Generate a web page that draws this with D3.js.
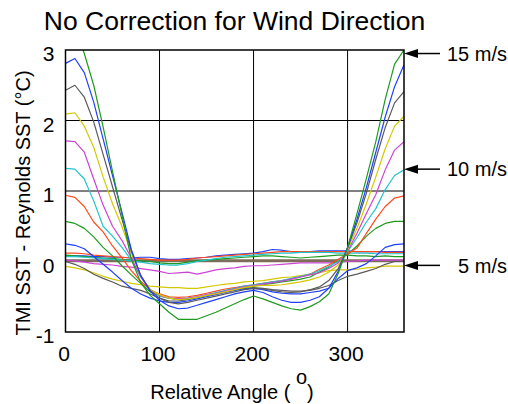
<!DOCTYPE html>
<html><head><meta charset="utf-8">
<script src="https://cdn.jsdelivr.net/npm/d3@7"></script>
<style>
body{margin:0;background:#fff;}
svg text{font-family:"Liberation Sans",Arial,Helvetica,sans-serif;fill:#000;}
</style></head>
<body><svg id="c" width="508" height="404"></svg>
<script>
// ---- data ----
const angles = [0,10,20,30,40,50,60,70,80,90,100,110,120,130,140,150,160,170,180,190,200,210,220,230,240,250,260,270,280,290,300,310,320,330,340,350,360];
const ws15 = [3.2,3.3,2.95,2.5,1.91,1.28,0.66,0.03,-0.3,-0.48,-0.6,-0.72,-0.82,-0.82,-0.82,-0.77,-0.72,-0.66,-0.6,-0.54,-0.49,-0.53,-0.58,-0.63,-0.67,-0.69,-0.64,-0.57,-0.46,-0.17,0.2,0.68,1.18,1.7,2.3,2.8,3.0];
const ws14 = [2.81,2.88,2.68,2.26,1.74,1.22,0.7,0.17,-0.2,-0.42,-0.55,-0.63,-0.67,-0.66,-0.62,-0.58,-0.54,-0.5,-0.46,-0.43,-0.41,-0.44,-0.5,-0.55,-0.58,-0.58,-0.55,-0.5,-0.38,-0.14,0.2,0.6,1.05,1.55,2.05,2.48,2.79];
const ws13 = [2.43,2.5,2.33,1.98,1.52,1.06,0.6,0.15,-0.2,-0.41,-0.52,-0.58,-0.6,-0.58,-0.55,-0.52,-0.49,-0.46,-0.43,-0.4,-0.38,-0.39,-0.41,-0.43,-0.44,-0.43,-0.4,-0.36,-0.27,-0.1,0.19,0.55,0.97,1.45,1.9,2.25,2.41];
const ws12 = [2.09,2.11,1.92,1.62,1.2,0.82,0.5,0.12,-0.2,-0.4,-0.47,-0.52,-0.54,-0.53,-0.51,-0.48,-0.46,-0.43,-0.4,-0.37,-0.35,-0.34,-0.34,-0.33,-0.31,-0.29,-0.26,-0.22,-0.15,-0.05,0.17,0.47,0.82,1.2,1.6,1.92,2.06];
const ws11 = [1.71,1.70,1.55,1.17,0.8,0.5,0.3,0.05,-0.22,-0.4,-0.48,-0.52,-0.53,-0.52,-0.5,-0.47,-0.45,-0.42,-0.39,-0.36,-0.34,-0.32,-0.3,-0.28,-0.25,-0.22,-0.19,-0.16,-0.1,-0.02,0.15,0.4,0.68,0.95,1.3,1.58,1.70];
const ws10 = [1.32,1.31,1.17,0.86,0.5,0.36,0.2,0.02,-0.22,-0.4,-0.49,-0.52,-0.53,-0.52,-0.5,-0.47,-0.44,-0.41,-0.38,-0.35,-0.33,-0.31,-0.29,-0.27,-0.24,-0.21,-0.18,-0.13,-0.07,0.0,0.14,0.34,0.56,0.75,1.02,1.22,1.30];
const ws9  = [0.94,0.91,0.78,0.56,0.42,0.22,0.05,-0.13,-0.28,-0.4,-0.46,-0.5,-0.51,-0.5,-0.48,-0.45,-0.42,-0.39,-0.37,-0.35,-0.33,-0.31,-0.29,-0.27,-0.25,-0.22,-0.18,-0.11,-0.05,0.03,0.11,0.19,0.4,0.6,0.78,0.9,0.93];
const ws8  = [0.57,0.54,0.47,0.35,0.2,0.08,-0.06,-0.19,-0.31,-0.43,-0.48,-0.52,-0.54,-0.53,-0.51,-0.48,-0.45,-0.42,-0.39,-0.37,-0.35,-0.33,-0.31,-0.29,-0.27,-0.25,-0.22,-0.15,-0.08,0.02,0.1,0.22,0.36,0.47,0.54,0.57,0.57];
const ws7  = [0.25,0.23,0.18,0.07,-0.04,-0.15,-0.27,-0.38,-0.46,-0.52,-0.56,-0.58,-0.58,-0.56,-0.53,-0.5,-0.47,-0.44,-0.41,-0.39,-0.38,-0.4,-0.43,-0.45,-0.46,-0.46,-0.44,-0.42,-0.38,-0.24,-0.13,-0.09,-0.03,0.08,0.2,0.24,0.25];
const ws6  = [0.0,-0.04,-0.1,-0.18,-0.24,-0.29,-0.35,-0.38,-0.41,-0.46,-0.52,-0.56,-0.56,-0.54,-0.51,-0.48,-0.45,-0.42,-0.4,-0.38,-0.37,-0.38,-0.4,-0.41,-0.42,-0.42,-0.41,-0.38,-0.34,-0.27,-0.21,-0.18,-0.14,-0.1,-0.04,0.0,0.0];
const ws5  = [-0.07,-0.09,-0.12,-0.16,-0.21,-0.25,-0.28,-0.31,-0.33,-0.35,-0.36,-0.37,-0.37,-0.38,-0.38,-0.36,-0.34,-0.32,-0.31,-0.29,-0.28,-0.27,-0.25,-0.23,-0.22,-0.2,-0.18,-0.16,-0.13,-0.12,-0.12,-0.11,-0.09,-0.08,-0.065,-0.065,-0.065];
const ws4  = [0.02,0.01,-0.01,-0.03,-0.04,-0.05,-0.07,-0.08,-0.1,-0.12,-0.14,-0.17,-0.16,-0.15,-0.18,-0.15,-0.12,-0.1,-0.09,-0.07,-0.06,-0.06,-0.05,-0.04,-0.03,-0.02,-0.02,-0.02,-0.02,-0.01,0.0,0.01,0.02,0.02,0.02,0.02,0.02];
const ws3  = [0.07,0.07,0.06,0.05,0.04,0.03,0.02,0.01,-0.01,-0.03,-0.04,-0.05,-0.05,-0.03,0.0,0.02,0.04,0.06,0.07,0.08,0.09,0.1,0.11,0.12,0.12,0.13,0.13,0.13,0.13,0.12,0.12,0.12,0.12,0.11,0.11,0.11,0.11];
const ws2  = [0.12,0.12,0.11,0.09,0.08,0.07,0.06,0.05,0.04,0.03,0.02,0.02,0.02,0.03,0.05,0.06,0.07,0.08,0.09,0.1,0.11,0.12,0.13,0.14,0.14,0.14,0.14,0.14,0.14,0.14,0.14,0.14,0.14,0.14,0.13,0.13,0.13];
const ws1  = [0.09,0.08,0.07,0.06,0.05,0.04,0.03,0.02,0.01,0.0,-0.02,-0.03,-0.03,-0.01,0.01,0.02,0.03,0.04,0.05,0.06,0.07,0.08,0.08,0.07,0.06,0.05,0.06,0.07,0.08,0.09,0.09,0.08,0.08,0.07,0.08,0.07,0.07];
const ws0  = [0.08,0.08,0.08,0.07,0.07,0.06,0.06,0.05,0.06,0.06,0.04,0.03,0.03,0.04,0.05,0.06,0.08,0.09,0.1,0.11,0.12,0.14,0.17,0.16,0.14,0.13,0.14,0.15,0.15,0.15,0.15,0.14,0.14,0.14,0.14,0.14,0.14];
const refLevel = 0.01;
const xTicks = [0,100,200,300];
const yTicks = [-1,0,1,2,3];
const xGridVals = [100,200,300];
const yGridVals = [0,1,2];
const annLabels = ["15 m/s","10 m/s","5 m/s"];
const annValues = [2.95,1.31,-0.055];

// ---- styles ----
const series = [ws0,ws1,ws2,ws3,ws4,ws5,ws6,ws7,ws8,ws9,ws10,ws11,ws12,ws13,ws14,ws15];
const palette = ["#1f9a1f","#2040ff","#5a5a5a","#d6c800","#cc44d6","#22c4cc","#ff4a1c"]; // cycle from 15 m/s down
const colorFor = i => palette[(15 - i) % 7];
const FONT = "Liberation Sans, Arial, sans-serif";

const svg = d3.select("#c");
const x = d3.scaleLinear().domain([0,360]).range([65.5,404]);
const y = d3.scaleLinear().domain([-1,3]).range([332,50]);

svg.append("defs").append("clipPath").attr("id","pc")
  .append("rect").attr("x",x(0)).attr("y",y(3)).attr("width",x(360)-x(0)).attr("height",y(-1)-y(3));

// grid
const g = svg.append("g");
g.selectAll(".vg").data(xGridVals).join("line")
  .attr("x1",d=>x(d)).attr("x2",d=>x(d)).attr("y1",y(3)).attr("y2",y(-1))
  .attr("stroke","#000").attr("stroke-width",1);
g.selectAll(".hg").data(yGridVals).join("line")
  .attr("x1",x(0)).attr("x2",x(360)).attr("y1",d=>y(d)).attr("y2",d=>y(d))
  .attr("stroke","#000").attr("stroke-width",1);

// reference level (thick brown)
const plot = svg.append("g").attr("clip-path","url(#pc)");
plot.append("line").attr("x1",x(0)).attr("x2",x(360)).attr("y1",y(refLevel)).attr("y2",y(refLevel))
  .attr("stroke","#7d6c58").attr("stroke-width",3);

const line = d3.line().x((d,i)=>x(angles[i])).y(d=>y(d));
series.forEach((s,i)=>{
  plot.append("path").attr("d",line(s)).attr("fill","none")
    .attr("stroke",colorFor(i)).attr("stroke-width",1.2).attr("stroke-linejoin","round");
});

// frame
svg.append("rect").attr("x",x(0)).attr("y",y(3)).attr("width",x(360)-x(0)).attr("height",y(-1)-y(3))
  .attr("fill","none").attr("stroke","#000").attr("stroke-width",1.5);

// axes
const xa = svg.append("g").attr("transform",`translate(0,${y(-1)})`)
  .call(d3.axisBottom(x).tickValues(xTicks).tickSize(0).tickPadding(14).tickFormat(d=>String(d)));
xa.select(".domain").remove();
xa.selectAll("text").attr("font-size",21).attr("dx",-2).style("font-family",FONT);
const ya = svg.append("g").attr("transform",`translate(${x(0)},0)`)
  .call(d3.axisLeft(y).tickValues(yTicks).tickSize(0).tickPadding(11).tickFormat(d=>String(d)));
ya.select(".domain").remove();
ya.selectAll("text").attr("font-size",21).attr("dy","0.5em").style("font-family",FONT);

// title
svg.append("text").attr("x",234.5).attr("y",30).attr("text-anchor","middle")
  .attr("font-size",26.5).text("No Correction for Wind Direction");

// x label
const xl = svg.append("text").attr("x",232).attr("y",399).attr("text-anchor","middle").attr("font-size",20);
xl.append("tspan").text("Relative Angle ( ");
xl.append("tspan").attr("dy",-15).text("o");
xl.append("tspan").attr("dy",15).text(")");

// y label
svg.append("text").attr("transform","translate(30,203) rotate(-90)").attr("text-anchor","middle")
  .attr("font-size",20).text("TMI SST - Reynolds SST (°C)");

// annotations
const ann = svg.append("g");
annValues.forEach((v,i)=>{
  const yy = y(v);
  ann.append("line").attr("x1",x(360)+12).attr("x2",440).attr("y1",yy).attr("y2",yy)
    .attr("stroke","#000").attr("stroke-width",1.5);
  ann.append("path").attr("d",`M${x(360)},${yy} L${x(360)+14},${yy-4.5} L${x(360)+14},${yy+4.5} Z`).attr("fill","#000");
  ann.append("text").attr("x",507).attr("y",yy).attr("dy","0.36em").attr("text-anchor","end")
    .attr("font-size",20).text(annLabels[i]);
});
</script></body></html>
